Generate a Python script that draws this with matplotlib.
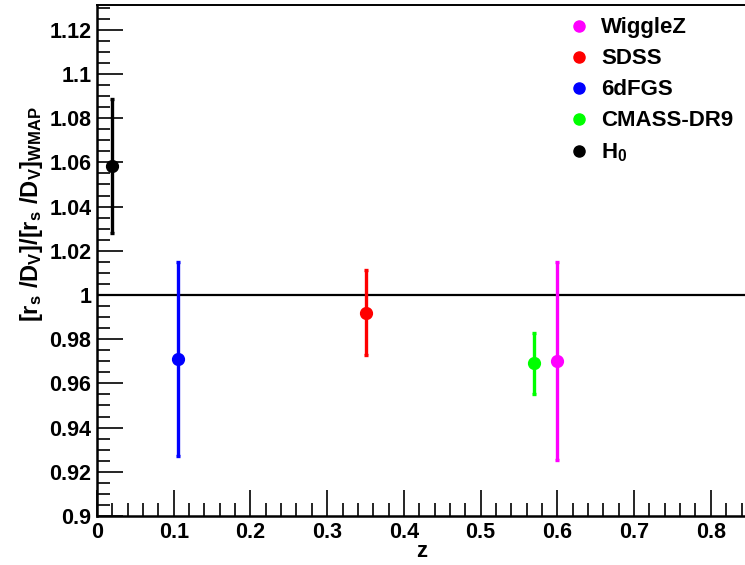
import matplotlib
matplotlib.use("Agg")
import matplotlib.pyplot as plt
from matplotlib.ticker import MultipleLocator, FixedFormatter, FixedLocator
from matplotlib.lines import Line2D

plt.rcParams['font.family'] = ['Liberation Sans', 'DejaVu Sans']
plt.rcParams['font.weight'] = 'bold'
plt.rcParams['mathtext.fontset'] = 'custom'
plt.rcParams['mathtext.rm'] = 'Liberation Sans:bold'
plt.rcParams['mathtext.it'] = 'Liberation Sans:bold'
plt.rcParams['mathtext.bf'] = 'Liberation Sans:bold'

labels = ['WiggleZ', 'SDSS', '6dFGS', 'CMASS-DR9', r'$\mathbf{H_0}$']
colors = ['#ff00ff', '#ff0000', '#0000ff', '#00ff00', '#000000']
z_vals = [0.60, 0.35, 0.106, 0.57, 0.02]
ratio_vals = [0.970, 0.992, 0.971, 0.969, 1.0585]
err_vals = [0.0448, 0.0192, 0.0437, 0.0136, 0.0303]

x_ticks = [0, 0.1, 0.2, 0.3, 0.4, 0.5, 0.6, 0.7, 0.8]
x_ticklabels = ['0', '0.1', '0.2', '0.3', '0.4', '0.5', '0.6', '0.7', '0.8']
y_ticks = [0.9, 0.92, 0.94, 0.96, 0.98, 1.0, 1.02, 1.04, 1.06, 1.08, 1.1, 1.12]
y_ticklabels = ['0.9', '0.92', '0.94', '0.96', '0.98', '1', '1.02', '1.04', '1.06', '1.08', '1.1', '1.12']

fig = plt.figure(figsize=(7.45, 5.65), dpi=100)
ax = fig.add_axes([97/745, 1-516/565, 1-97/745 + 0.002, (516-5)/565])

ax.axhline(1.0, color='black', lw=1.6, zorder=1)

for lab, c, x, y, e in zip(labels, colors, z_vals, ratio_vals, err_vals):
    ax.errorbar([x], [y], yerr=[e], fmt='o', color=c, ms=8.5, elinewidth=2.4,
                capsize=1.6, capthick=2.4, label=lab, zorder=3)

ax.set_xlim(0, 0.8465)
ax.set_ylim(0.9, 1.1312)

ax.xaxis.set_major_locator(FixedLocator(x_ticks))
ax.xaxis.set_major_formatter(FixedFormatter(x_ticklabels))
ax.xaxis.set_minor_locator(MultipleLocator(0.02))
ax.yaxis.set_major_locator(FixedLocator(y_ticks))
ax.yaxis.set_major_formatter(FixedFormatter(y_ticklabels))
ax.yaxis.set_minor_locator(MultipleLocator(0.005))

ax.tick_params(which='both', direction='in', top=False, right=False, labelsize=15.5)
ax.tick_params(which='major', length=19, width=1.2)
ax.tick_params(which='minor', length=9.5, width=1.2)
ax.tick_params(axis='x', pad=4)
ax.tick_params(axis='y', pad=4)

for s in ['left', 'bottom']:
    ax.spines[s].set_linewidth(1.8)
ax.spines['top'].set_linewidth(1.4)
ax.spines['right'].set_visible(False)

for t in ax.get_xticklabels() + ax.get_yticklabels():
    t.set_fontweight('bold')

ax.set_xlabel('z', fontsize=16, fontweight='bold', labelpad=-1)
ax.set_ylabel(r'$\mathbf{[r_{s}\ /D_{V}]/[r_{s}\ /D_{V}]_{WMAP}}$', fontsize=17)
ax.yaxis.set_label_coords(-0.080, 0.59)

proxy = [Line2D([], [], marker='o', ls='none', color=c, ms=8) for c in colors]
leg = ax.legend(proxy, labels, loc='upper right', bbox_to_anchor=(0.994, 0.993),
                frameon=False, handlelength=1.0, handletextpad=0.5,
                labelspacing=0.45, borderaxespad=0.0, prop={'weight': 'bold', 'size': 16})

fig.savefig('out.png', dpi=100)
